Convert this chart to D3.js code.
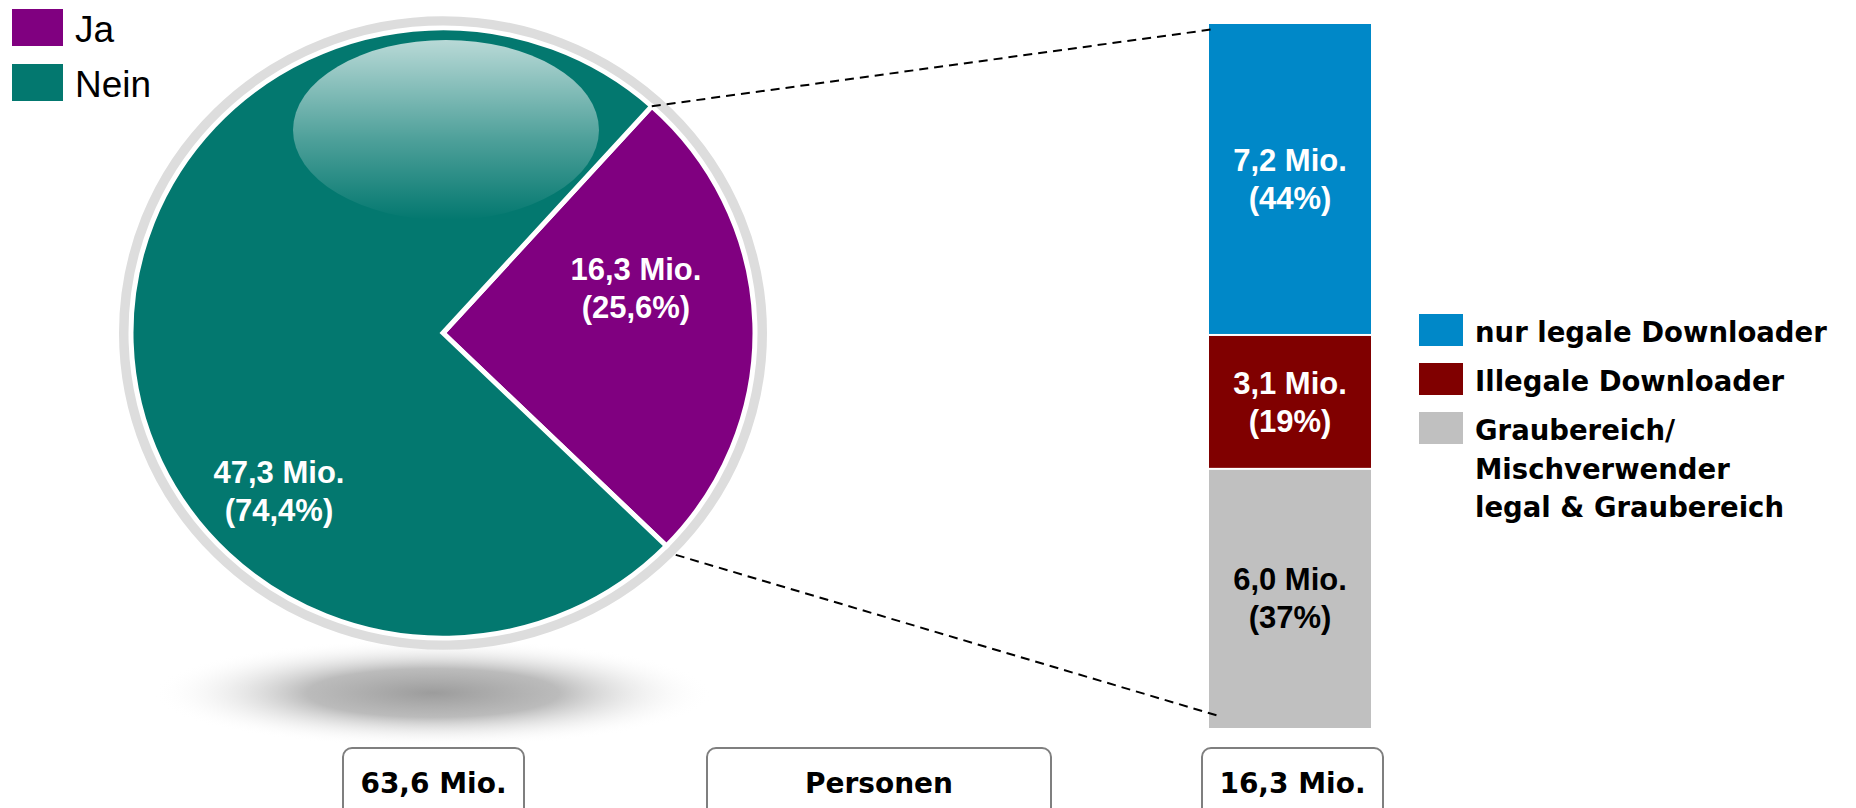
<!DOCTYPE html>
<html>
<head>
<meta charset="utf-8">
<script src="https://cdn.jsdelivr.net/npm/d3@7"></script>
<style>
  body { margin: 0; background: #fff; }
  svg { display: block; }
</style>
</head>
<body>
<div id="chart"></div>
<script>
// pie: Downloader ja / nein (Mio.)
var pieCats = ["Ja", "Nein"];
var pieValues = [16.3, 47.3];
var pieShares = ["25,6%", "74,4%"];
var pieColors = ["#800080", "#03786f"];

// bar: Aufteilung der 16,3 Mio. Downloader
var barCats = ["Graubereich/ Mischverwender legal & Graubereich", "Illegale Downloader", "nur legale Downloader"];
var barValues = [6.0, 3.1, 7.2];
var barShares = ["37%", "19%", "44%"];
var barColors = ["#c0c0c0", "#800000", "#0088c8"];
var barTextColors = ["#000", "#fff", "#fff"];

var legendRight = [
	{ lines: ["nur legale Downloader"], color: "#0088c8" },
	{ lines: ["Illegale Downloader"], color: "#800000" },
	{ lines: ["Graubereich/", "Mischverwender", "legal & Graubereich"], color: "#c0c0c0" }
];
var bottomLabels = ["63,6 Mio.", "Personen", "16,3 Mio."];

function fmt(v) { return d3.format(".1f")(v).replace(".", ","); }

var width = 1856, height = 808;
var svg = d3.select("#chart").append("svg")
	.attr("width", width)
	.attr("height", height);

var defs = svg.append("defs");

var shadowGrad = defs.append("radialGradient").attr("id", "shadow");
shadowGrad.append("stop").attr("offset", "0%").attr("stop-color", "#9c9c9c");
shadowGrad.append("stop").attr("offset", "45%").attr("stop-color", "#b4b4b4").attr("stop-opacity", 0.9);
shadowGrad.append("stop").attr("offset", "100%").attr("stop-color", "#ffffff").attr("stop-opacity", 0);

var glossGrad = defs.append("linearGradient").attr("id", "gloss")
	.attr("x1", 0).attr("y1", 0).attr("x2", 0).attr("y2", 1);
glossGrad.append("stop").attr("offset", "0%").attr("stop-color", "#fff").attr("stop-opacity", 0.72);
glossGrad.append("stop").attr("offset", "55%").attr("stop-color", "#fff").attr("stop-opacity", 0.3);
glossGrad.append("stop").attr("offset", "100%").attr("stop-color", "#fff").attr("stop-opacity", 0);

// ---- pie ----
var cx = 443, cy = 333, sy = 0.978;
var rPie = 312, rRing = 318;
var startA = 42 * Math.PI / 180;

svg.append("ellipse")
	.attr("cx", 433).attr("cy", 693)
	.attr("rx", 280).attr("ry", 54)
	.attr("fill", "url(#shadow)");

var pg = svg.append("g")
	.attr("transform", "translate(" + cx + "," + cy + ") scale(1," + sy + ")");

pg.append("circle")
	.attr("r", rRing)
	.attr("fill", "none")
	.attr("stroke", "#dddddd")
	.attr("stroke-width", 12);

var pie = d3.pie().sort(null).startAngle(startA).endAngle(startA + 2 * Math.PI);
var arcs = pie(pieValues);
var arc = d3.arc().innerRadius(0).outerRadius(rPie);

pg.selectAll("path.slice")
	.data(arcs)
	.enter()
	.append("path")
		.attr("class", "slice")
		.attr("d", arc)
		.attr("fill", function(d, i) { return pieColors[i]; })
		.attr("stroke", "#fff")
		.attr("stroke-width", 5)
		.attr("stroke-linejoin", "miter");

// glossy highlight on top
pg.append("ellipse")
	.attr("cx", 3).attr("cy", (130 - cy) / sy)
	.attr("rx", 153).attr("ry", 92)
	.attr("fill", "url(#gloss)");

// slice labels (placed by angle / radius like in the original)
var labelPolar = [[77, 198], [226, 228]];
var labelG = svg.append("g")
	.attr("font-family", "'Liberation Sans', Arial, sans-serif")
	.attr("font-weight", "bold")
	.attr("font-size", 31)
	.attr("fill", "#fff")
	.attr("text-anchor", "middle");

arcs.forEach(function(d, i) {
	var a = labelPolar[i][0] * Math.PI / 180, r = labelPolar[i][1];
	var x = cx + r * Math.sin(a), y = cy - r * Math.cos(a);
	var t = labelG.append("text").attr("x", x).attr("y", y - 8);
	t.append("tspan").attr("x", x).text(fmt(d.value) + " Mio.");
	t.append("tspan").attr("x", x).attr("dy", 38).text("(" + pieShares[i] + ")");
});

// ---- stacked bar ----
var total = d3.sum(barValues);
var y = d3.scaleLinear().domain([0, total]).range([728, 24]);
var barX = 1209, barW = 162;

var stack = [];
var acc = 0;
barValues.forEach(function(v, i) {
	stack.push({ y0: acc, y1: acc + v, i: i, value: v });
	acc += v;
});

svg.selectAll("rect.seg")
	.data(stack)
	.enter()
	.append("rect")
		.attr("class", "seg")
		.attr("x", barX)
		.attr("width", barW)
		.attr("y", function(d) { return y(d.y1) + (d.i < stack.length - 1 ? 1 : 0); })
		.attr("height", function(d) {
			var top = y(d.y1) + (d.i < stack.length - 1 ? 1 : 0);
			var bot = y(d.y0) - (d.i > 0 ? 1 : 0);
			return bot - top;
		})
		.attr("fill", function(d) { return barColors[d.i]; });

var barLab = svg.append("g")
	.attr("font-family", "'Liberation Sans', Arial, sans-serif")
	.attr("font-weight", "bold")
	.attr("font-size", 31)
	.attr("text-anchor", "middle");

stack.forEach(function(d) {
	var mx = barX + barW / 2, my = (y(d.y0) + y(d.y1)) / 2;
	var t = barLab.append("text").attr("x", mx).attr("y", my - 8).attr("fill", barTextColors[d.i]);
	t.append("tspan").attr("x", mx).text(fmt(d.value) + " Mio.");
	t.append("tspan").attr("x", mx).attr("dy", 38).text("(" + barShares[d.i] + ")");
});

// ---- dashed connector lines ----
var endA = arcs[0].endAngle;
var p1 = [cx + 312 * Math.sin(startA), cy - 312 * Math.cos(startA) * sy];
var p2 = [cx + 325 * Math.sin(endA), cy - 325 * Math.cos(endA) * sy];
var lines = [
	[p1, [barX + 6, y(total) + 5]],
	[p2, [barX + 10, y(0) - 12]]
];
svg.selectAll("line.conn")
	.data(lines)
	.enter()
	.append("line")
		.attr("class", "conn")
		.attr("x1", function(d) { return d[0][0]; })
		.attr("y1", function(d) { return d[0][1]; })
		.attr("x2", function(d) { return d[1][0]; })
		.attr("y2", function(d) { return d[1][1]; })
		.attr("stroke", "#000")
		.attr("stroke-width", 2)
		.attr("stroke-dasharray", "9,6");

// ---- legend left ----
var legL = svg.append("g")
	.attr("font-family", "'Liberation Sans', Arial, sans-serif")
	.attr("font-size", 37);
pieCats.forEach(function(c, i) {
	var ty = 9 + i * 55;
	legL.append("rect").attr("x", 12).attr("y", ty).attr("width", 51).attr("height", 37).attr("fill", pieColors[i]);
	legL.append("text").attr("x", 75).attr("y", ty + 33).text(c);
});

// ---- legend right ----
var legR = svg.append("g")
	.attr("font-family", "'DejaVu Sans', Verdana, sans-serif")
	.attr("font-weight", "bold")
	.attr("font-size", 27.5);
legendRight.forEach(function(d, i) {
	var ty = 314 + i * 49;
	legR.append("rect").attr("x", 1419).attr("y", ty).attr("width", 44).attr("height", 32).attr("fill", d.color);
	var t = legR.append("text").attr("x", 1475).attr("y", ty + 28);
	d.lines.forEach(function(l, j) {
		t.append("tspan").attr("x", 1475).attr("dy", j ? 38.5 : 0).text(l);
	});
});

// ---- bottom boxes ----
var boxes = [
	{ x: 343, w: 181 },
	{ x: 707, w: 344 },
	{ x: 1202, w: 181 }
];
var bg = svg.append("g")
	.attr("font-family", "'DejaVu Sans', Verdana, sans-serif")
	.attr("font-weight", "bold")
	.attr("font-size", 28)
	.attr("text-anchor", "middle");
boxes.forEach(function(b, i) {
	bg.append("rect")
		.attr("x", b.x).attr("y", 748)
		.attr("width", b.w).attr("height", 75)
		.attr("rx", 9)
		.attr("fill", "#fff")
		.attr("stroke", "#7f7f7f")
		.attr("stroke-width", 2);
	bg.append("text").attr("x", b.x + b.w / 2).attr("y", 793).text(bottomLabels[i]);
});
</script>
</body>
</html>
